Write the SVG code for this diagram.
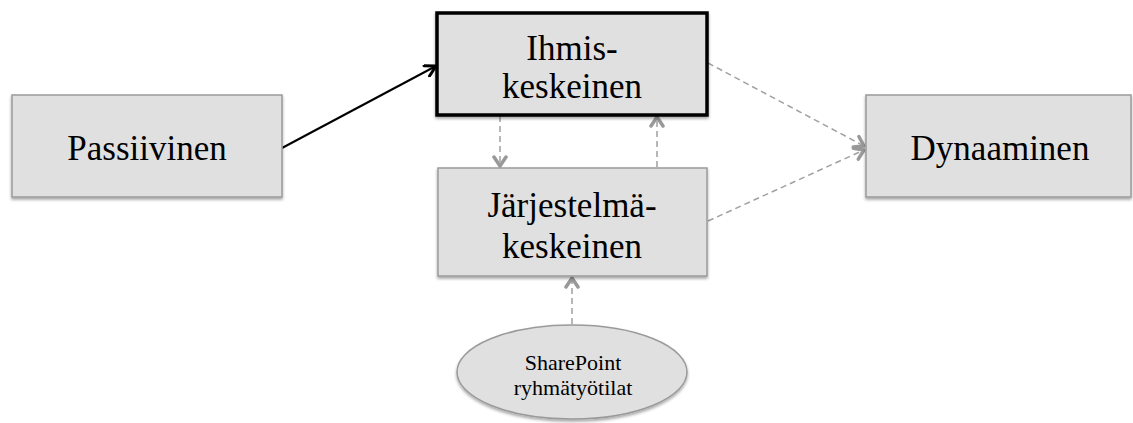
<svg xmlns="http://www.w3.org/2000/svg" width="1133" height="423" viewBox="0 0 1133 423">
<style>
.box{fill:#e0e0e0;stroke:#9a9a9a;stroke-width:1.5;filter:url(#sh)}
.bold{fill:#e0e0e0;stroke:#000;stroke-width:3.5;filter:url(#sh)}
.t{font-family:"Liberation Serif","Times New Roman",serif;font-size:35px;fill:#000;text-anchor:middle}
.s{font-family:"Liberation Serif","Times New Roman",serif;font-size:22px;fill:#000;text-anchor:middle}
.dash{fill:none;stroke:#a0a0a0;stroke-width:1.5;stroke-dasharray:6,4;marker-end:url(#ga)}
.solid{fill:none;stroke:#000;stroke-width:2;marker-end:url(#ba)}
</style>
<defs>
<filter id="sh" x="-10%" y="-10%" width="120%" height="130%">
<feDropShadow dx="0" dy="2" stdDeviation="1.5" flood-color="#000" flood-opacity="0.35"/>
</filter>
<marker id="ga" viewBox="0 0 14 16" refX="12" refY="8" markerWidth="14" markerHeight="16" markerUnits="userSpaceOnUse" orient="auto">
<path d="M3,2 L12,8 L3,14" fill="none" stroke="#999" stroke-width="3.5" stroke-linecap="round" stroke-linejoin="round"/>
</marker>
<marker id="ba" viewBox="0 0 12 12" refX="11" refY="6" markerWidth="14" markerHeight="14" markerUnits="userSpaceOnUse" orient="auto">
<path d="M2,1 L11,6 L2,11" fill="none" stroke="#000" stroke-width="2.5" stroke-linecap="round" stroke-linejoin="round"/>
</marker>
</defs>
<g id="connectors">
<path class="solid" d="M282,148 L436,66"/>
<path class="dash" d="M500,116 L500,166"/>
<path class="dash" d="M657,167 L657,117"/>
<path class="dash" d="M708,63 L864,146"/>
<path class="dash" d="M708,221 L864,150"/>
<path class="dash" d="M572,324 L572,278"/>
</g>
<g id="passiivinen">
<rect class="box" x="12" y="95" width="270" height="102"/>
<text class="t" x="147" y="160">Passiivinen</text>
</g>
<g id="ihmiskeskeinen">
<rect class="bold" x="437" y="13" width="270" height="102"/>
<text class="t" x="572" y="60">Ihmis-</text>
<text class="t" x="572" y="98">keskeinen</text>
</g>
<g id="jarjestelmakeskeinen">
<rect class="box" x="438" y="168" width="269" height="108"/>
<text class="t" x="572" y="217">Järjestelmä-</text>
<text class="t" x="572" y="258">keskeinen</text>
</g>
<g id="dynaaminen">
<rect class="box" x="866" y="95" width="265" height="102"/>
<text class="t" x="1000" y="160">Dynaaminen</text>
</g>
<g id="sharepoint">
<ellipse class="box" cx="572" cy="372" rx="115" ry="47"/>
<text class="s" x="573" y="370">SharePoint</text>
<text class="s" x="573" y="395">ryhmätyötilat</text>
</g>
</svg>
